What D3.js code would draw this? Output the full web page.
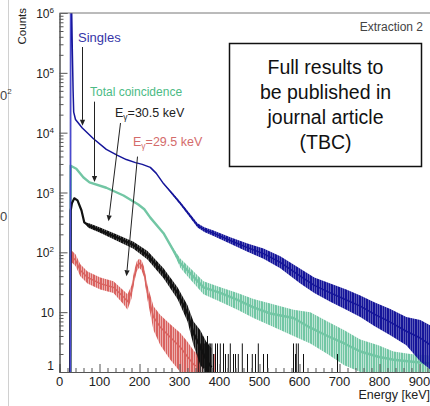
<!DOCTYPE html>
<html>
<head>
<meta charset="utf-8">
<script src="https://d3js.org/d3.v7.min.js"></script>
<style>
  body { margin: 0; background: #fff; }
  svg { display: block; font-family: "Liberation Sans", Arial, sans-serif; }
</style>
</head>
<body>
<svg id="chart" width="430" height="406"></svg>
<script>
// --- data (energy in keV, counts per bin) ---
// Singles (blue)
var singlesE   = [27, 28, 30, 32, 34, 35.5, 40, 57, 85, 117, 145, 167, 190, 207, 227, 242, 260, 282, 302, 322, 345, 362, 385, 427, 470, 510, 552, 602, 637, 677, 717, 752, 787, 827, 867, 902, 935];
var singlesMid = [1, 4e6, 1.6e6, 2.5e5, 5e4, 2.2e4, 1.66e4, 1.2e4, 7900, 5250, 4170, 3550, 3160, 2950, 2630, 2090, 1410, 955, 660, 447, 282, 240, 209, 158, 120, 95, 68, 40, 28, 21, 16, 12.6, 9.3, 6.8, 4.8, 3.7, 2.6];
var singlesLo  = [1, 4e6, 1.6e6, 2.5e5, 5e4, 2.2e4, 1.66e4, 1.2e4, 7900, 5250, 4170, 3550, 3160, 2950, 2630, 2090, 1410, 912, 623, 417, 260, 219, 188, 139, 102, 78, 54, 30, 21, 15, 11, 8.3, 5.9, 4.1, 2.8, 1.5, 1];
var singlesHi  = [1, 4e6, 1.6e6, 2.5e5, 5e4, 2.2e4, 1.66e4, 1.2e4, 7900, 5250, 4170, 3550, 3160, 2950, 2630, 2090, 1410, 1000, 700, 479, 306, 263, 232, 179, 141, 116, 86, 53, 38, 30, 24, 19, 14.7, 11.3, 8.3, 7.4, 5.6];

// Total coincidence (green)
var totalE   = [27, 28, 42, 60, 75, 117, 160, 197, 212, 227, 260, 285, 302, 320, 360, 402, 445, 485, 527, 585, 627, 670, 712, 752, 797, 835, 877, 920, 935];
var totalMid = [1, 2800, 2500, 1780, 1480, 1200, 890, 630, 525, 380, 209, 107, 66, 50, 26, 21, 16, 12, 9.5, 8, 5.5, 4, 3, 2.2, 1.8, 1.6, 1.5, 1.4, 1.4];
var totalLo  = [1, 2800, 2500, 1780, 1480, 1200, 890, 630, 525, 380, 209, 100, 55, 40, 20, 15, 11, 8, 6, 4, 3, 2, 1.3, 1, 1, 1, 1, 1, 1];
var totalHi  = [1, 2800, 2500, 1780, 1480, 1200, 890, 630, 525, 380, 209, 115, 79, 60, 33, 26, 21, 16.6, 14, 11, 10, 7, 5, 3.5, 2.8, 2.2, 2, 1.9, 1.8];

// E_gamma = 30.5 keV gate (black)
var gate305E   = [27, 28, 31, 37, 45, 55, 62, 72, 100, 142, 185, 220, 260, 295, 320, 335, 352, 367, 380];
var gate305Mid = [1, 500, 660, 800, 740, 500, 316, 282, 234, 178, 132, 89, 45, 21, 9.5, 4.5, 2.6, 1.6, 1.2];
var gate305Lo  = [1, 500, 660, 800, 740, 500, 316, 257, 214, 158, 115, 76, 37, 16.6, 7, 2.8, 1.3, 1, 1];
var gate305Hi  = [1, 500, 660, 800, 740, 500, 316, 309, 263, 200, 151, 105, 54, 26, 13, 7, 5, 3.2, 2.5];
var gate305SpikeE = [347, 352, 357, 362, 365, 370, 374, 377, 381, 385, 390, 395, 402, 410, 415, 422, 427, 435, 440, 447, 457, 470, 482, 490, 497, 510, 520, 585, 590, 592, 597, 610, 695];
var gate305SpikeN = [4, 3, 4, 3, 3, 4, 3, 3, 3, 2, 3, 3, 3, 3, 2, 2, 3, 2, 2, 2, 3, 2, 2, 2, 3, 2, 2, 3, 2, 3, 3, 2, 2];

// E_gamma = 29.5 keV gate (red)
var gate295E   = [27, 28, 40, 52, 70, 102, 135, 160, 170, 180, 187, 193, 199, 205, 211, 220, 235, 252, 277, 302, 320, 337, 352];
var gate295Mid = [1, 89, 74, 50, 38, 30, 26, 18, 15, 22, 40, 58, 66, 61, 48, 21, 8.3, 5.6, 3.8, 2.6, 1.8, 1.3, 1.2];
var gate295Lo  = [1, 70, 59, 40, 30, 24, 21, 13.5, 11, 17, 32, 48, 55, 50, 39, 16, 5, 2.8, 1.6, 1, 1, 1, 1];
var gate295Hi  = [1, 110, 93, 63, 48, 38, 33, 23, 20, 28, 50, 70, 78, 74, 58, 28, 12.6, 9, 6.3, 4.5, 3.2, 2.2, 2];
var gate295SpikeE = [345, 357, 372, 388];
var gate295SpikeN = [2, 3, 2, 2];

// axis ticks
var xMajor = [0, 100, 200, 300, 400, 500, 600, 700, 800, 900];
var yMajor = [1, 10, 100, 1e3, 1e4, 1e5, 1e6];
var yMajorExp = ["", "", "2", "3", "4", "5", "6"];

// annotation arrows: [fromE, fromCounts, toE, toCounts]
var arrows = [
  [57.5, 2.7e5, 57.5, 1.3e4],
  [87.5, 3.3e4, 87.5, 1500],
  [152.5, 1.45e4, 122.5, 330],
  [195, 3980, 167.5, 40]
];

var svg = d3.select("#chart");
var x = d3.scaleLinear().domain([0, 930]).range([59.5, 431.5]);
var y = d3.scaleLog().domain([1, 1e6]).range([372, 13]);

svg.append("rect").attr("width", 430).attr("height", 406).attr("fill", "#fff");

// bits of the neighbouring panel on the left
svg.append("line").attr("x1", 8.5).attr("x2", 8.5).attr("y1", 0).attr("y2", 406)
   .attr("stroke", "#d0d0d0").attr("stroke-width", 1);
var frag = svg.append("text").attr("x", 0).attr("y", 100).attr("font-size", 13).attr("fill", "#444").text("0");
frag.append("tspan").attr("dy", -6).attr("font-size", 8).text("2");
svg.append("text").attr("x", 0).attr("y", 221).attr("font-size", 13).attr("fill", "#444").text("0");

var defs = svg.append("defs");
defs.append("clipPath").attr("id", "plot").append("rect")
   .attr("x", 60).attr("y", 13).attr("width", 372).attr("height", 359);

// uneven vertical hatching so the noisy parts read as histogram bins
function hatch(id, colour, bgOpacity) {
  var p = defs.append("pattern").attr("id", id).attr("patternUnits", "userSpaceOnUse")
      .attr("width", 7).attr("height", 4);
  p.append("rect").attr("width", 7).attr("height", 4).attr("fill", colour).attr("opacity", bgOpacity);
  [0, 2, 3, 5].forEach(function(o) {
    p.append("rect").attr("x", o).attr("width", 1).attr("height", 4).attr("fill", colour);
  });
  return "url(#" + id + ")";
}

var plot = svg.append("g").attr("clip-path", "url(#plot)");

function drawSeries(E, mid, lo, hi, colour, fill, lw) {
  var rows = E.map(function(e, i) { return {e: e, m: mid[i], lo: lo[i], hi: hi[i]}; });
  plot.append("path").datum(rows)
      .attr("d", d3.area().x(function(d){ return x(d.e); })
                          .y0(function(d){ return y(d.lo); })
                          .y1(function(d){ return y(d.hi); }))
      .attr("fill", fill);
  plot.append("path").datum(rows)
      .attr("d", d3.line().x(function(d){ return x(d.e); }).y(function(d){ return y(d.m); }))
      .attr("fill", "none").attr("stroke", colour).attr("stroke-width", lw)
      .attr("stroke-linejoin", "round");
}

function drawSpikes(E, N, colour) {
  plot.selectAll(null).data(E).enter().append("line")
      .attr("x1", function(d){ return x(d); }).attr("x2", function(d){ return x(d); })
      .attr("y1", y(1)).attr("y2", function(d, i){ return y(N[i]); })
      .attr("stroke", colour).attr("stroke-width", 1);
}

drawSeries(totalE, totalMid, totalLo, totalHi, "#72c6a4", hatch("hG", "#72c6a4", 0.45), 2.4);
drawSeries(gate295E, gate295Mid, gate295Lo, gate295Hi, "#d9625f", hatch("hR", "#d9625f", 0.5), 1.4);
drawSpikes(gate295SpikeE, gate295SpikeN, "#d9625f");
drawSeries(gate305E, gate305Mid, gate305Lo, gate305Hi, "#111", hatch("hK", "#111", 0.7), 2.2);
drawSpikes(gate305SpikeE, gate305SpikeN, "#111");
drawSeries(singlesE, singlesMid, singlesLo, singlesHi, "#15159a", hatch("hB", "#15159a", 0.7), 1.5);

// axes: ticks drawn on the inside, ROOT style
var yMinor = [];
yMajor.slice(0, -1).forEach(function(d) { for (var k = 2; k < 10; k++) yMinor.push(k * d); });
var xMinor = d3.range(0, 931, 20).filter(function(d){ return d % 100 !== 0; });

svg.append("g").attr("transform", "translate(" + x(0) + ",0)")
   .call(d3.axisLeft(y).tickValues(yMinor).tickSize(-4).tickFormat(""));
svg.append("g").attr("transform", "translate(" + x(0) + ",0)")
   .call(d3.axisLeft(y).tickValues(yMajor).tickSize(-8).tickFormat(""));
svg.append("g").attr("transform", "translate(0," + y(1) + ")")
   .call(d3.axisBottom(x).tickValues(xMinor).tickSize(-4).tickFormat(""));
svg.append("g").attr("transform", "translate(0," + y(1) + ")")
   .call(d3.axisBottom(x).tickValues(xMajor).tickSize(-8).tickFormat(""));
svg.selectAll(".domain").attr("stroke", "#555");
svg.selectAll(".tick line").attr("stroke", "#555");

// top frame line
svg.append("line").attr("x1", x(0)).attr("x2", 430).attr("y1", y(1e6)).attr("y2", y(1e6))
   .attr("stroke", "#777").attr("stroke-width", 1);

// singles edge at threshold, drawn full height
plot.append("line").attr("x1", x(27.5)).attr("x2", x(27.5)).attr("y1", y(1)).attr("y2", y(1e6))
    .attr("stroke", "#4a4ad0").attr("stroke-width", 1.2);

// y tick labels
yMajor.forEach(function(v, i) {
  var t = svg.append("text").attr("x", 54).attr("y", Math.min(y(v) + 5, 370))
     .attr("text-anchor", "end").attr("font-size", 12).attr("fill", "#222")
     .text(i === 0 ? "1" : "10");
  if (yMajorExp[i]) t.append("tspan").attr("dy", -5).attr("font-size", 8).text(yMajorExp[i]);
});
// x tick labels
xMajor.forEach(function(v) {
  svg.append("text").attr("x", x(v)).attr("y", 386).attr("text-anchor", "middle")
     .attr("font-size", 13).attr("fill", "#222").text(v);
});

svg.append("text").attr("transform", "translate(26,8) rotate(-90)")
   .attr("text-anchor", "end").attr("font-size", 11.5).attr("fill", "#222").text("Counts");
svg.append("text").attr("x", 430).attr("y", 399).attr("text-anchor", "end")
   .attr("font-size", 12.5).attr("fill", "#222").text("Energy [keV]");

// annotations
arrows.forEach(function(a) {
  var x1 = x(a[0]), y1 = y(a[1]), x2 = x(a[2]), y2 = y(a[3]);
  var ang = Math.atan2(y2 - y1, x2 - x1), L = 6, W = 2.6;
  var bx = x2 - L * Math.cos(ang), by = y2 - L * Math.sin(ang);
  svg.append("line").attr("x1", x1).attr("y1", y1).attr("x2", bx).attr("y2", by)
     .attr("stroke", "#222").attr("stroke-width", 1);
  svg.append("path")
     .attr("d", "M" + x2 + "," + y2 +
                "L" + (bx - W * Math.sin(ang)) + "," + (by + W * Math.cos(ang)) +
                "L" + (bx + W * Math.sin(ang)) + "," + (by - W * Math.cos(ang)) + "Z")
     .attr("fill", "#222");
});

svg.append("text").attr("x", 78).attr("y", 42).attr("font-size", 13).attr("fill", "#3535a8").text("Singles");
svg.append("text").attr("x", 90).attr("y", 96).attr("font-size", 12).attr("fill", "#4cbb85").text("Total coincidence");
var g1 = svg.append("text").attr("x", 115).attr("y", 117).attr("font-size", 12.5).attr("fill", "#222").text("E");
g1.append("tspan").attr("dy", 3).attr("font-size", 8.5).text("γ");
g1.append("tspan").attr("dy", -3).text("=30.5 keV");
var g2 = svg.append("text").attr("x", 133).attr("y", 146).attr("font-size", 12.5).attr("fill", "#d46b6b").text("E");
g2.append("tspan").attr("dy", 3).attr("font-size", 8.5).text("γ");
g2.append("tspan").attr("dy", -3).text("=29.5 keV");

svg.append("text").attr("x", 423).attr("y", 31).attr("text-anchor", "end")
   .attr("font-size", 12).attr("fill", "#444").text("Extraction 2");

// placeholder box
svg.append("rect").attr("x", 229.5).attr("y", 43.5).attr("width", 192).attr("height", 123)
   .attr("fill", "#fff").attr("stroke", "#111").attr("stroke-width", 1.5);
["Full results to", "be published in", "journal article", "(TBC)"].forEach(function(s, i) {
  svg.append("text").attr("x", 325.5).attr("y", 74 + i * 25).attr("text-anchor", "middle")
     .attr("font-size", 19.5).attr("fill", "#111").text(s);
});
</script>
</body>
</html>
